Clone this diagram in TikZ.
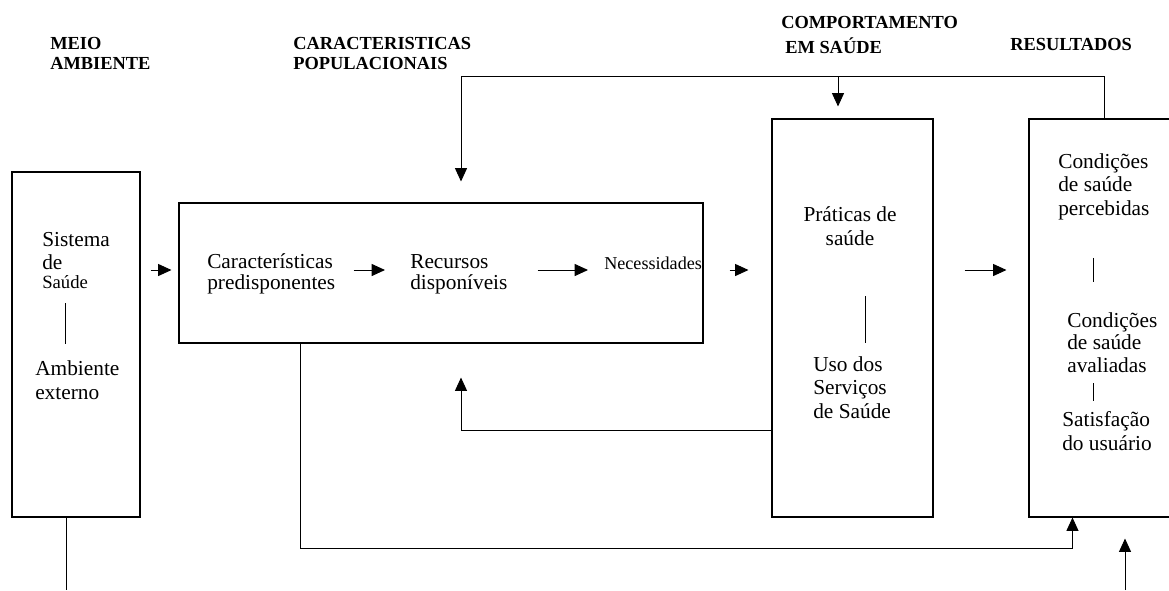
\documentclass[tikz,border=0pt]{standalone}
\usepackage{fontspec}
\setmainfont{Liberation Serif}
\usetikzlibrary{arrows.meta,calc,fit}

\begin{document}
\begin{tikzpicture}[x=0.75pt,y=-0.75pt,
    caixa/.style={draw,line width=0.8pt,inner sep=0pt},
    texto/.style={font=\fontsize{16}{17.6}\selectfont,align=left,inner sep=0pt,anchor=base west},
    titulo/.style={font=\bfseries\fontsize{13.8}{15}\selectfont,align=left,inner sep=0pt,anchor=base west},
    seta/.style={line width=0.7pt,-{Triangle[length=10pt,width=9pt]}},
    traco/.style={line width=0.7pt}]
  \useasboundingbox (0,0) rectangle (1169,590);
  \coordinate (linha) at (0,270);
  \coordinate (retorno) at (461,430);
  \coordinate (topo) at (461,76);
  \coordinate (desce) at (838,76);
  \coordinate (baixo) at (300,548);
  \coordinate (entrada) at (1125,590);
  \coordinate (saida) at (66,590);

  \node[titulo] (hambiente) at (50,69) {MEIO\\AMBIENTE};
  \node[titulo] (hpopulacao) at (293,69) {CARACTERISTICAS\\POPULACIONAIS};
  \node[titulo] (hcomport) at (781,53) {COMPORTAMENTO\\[3.75pt]\hspace*{3pt}EM SAÚDE};
  \node[titulo] (hresult) at (1010,50) {RESULTADOS};

  \node[caixa,fit={(12,172) (140,517)}] (ambiente) {};
  \node[caixa,fit={(179,203) (703,343)}] (populacao) {};
  \node[caixa,fit={(772,119) (933,517)}] (comportamento) {};
  \node[caixa,fit={(1029,119) (1180,517)}] (resultados) {};

  \node[texto] (sistema) at (42,288) {Sistema\\de\\[-4pt]{\fontsize{14}{16}\selectfont Saúde}};
  \node[texto] (externo) at (35,399) {Ambiente\\externo};
  \node[texto] (predisp) at (207,289) {Características\\[-1.85pt]predisponentes};
  \node[texto] (recursos) at (410,289) {Recursos\\[-1.85pt]disponíveis};
  \node[texto,font=\fontsize{13.6}{15}\selectfont] (necess) at (604,269) {Necessidades};
  \node[texto,align=center,anchor=base] (praticas) at (850,245) {Práticas de\\saúde};
  \node[texto] (uso) at (813,418) {Uso dos\\Serviços\\de Saúde};
  \node[texto] (percebidas) at (1058,215) {Condições\\de saúde\\percebidas};
  \node[texto] (avaliadas) at (1067,372) {Condições\\[-0.8pt]de saúde\\[-0.8pt]avaliadas};
  \node[texto] (satisf) at (1062,450) {Satisfação\\do usuário};

  \draw[traco] ($(sistema.south west)+(23,15)$) -- ($(externo.north west)+(30,-16)$);
  \draw[traco] ($(praticas.south)+(15,51)$) -- ($(uso.north west)+(52,-13)$);
  \draw[traco] ($(percebidas.south west)+(35,38)$) -- ($(avaliadas.north west)+(26,-30)$);
  \draw[traco] ($(avaliadas.south west)+(26,11)$) -- ($(satisf.north west)+(31,-10)$);

  \draw[seta] ($(ambiente.east |- linha)+(10,0)$) -- ($(populacao.west |- linha)+(-7,0)$);
  \draw[seta] ($(predisp.east |- linha)+(18,0)$) -- ($(recursos.west |- linha)+(-25,0)$);
  \draw[seta] ($(recursos.east |- linha)+(30,0)$) -- ($(necess.west |- linha)+(-16,0)$);
  \draw[seta] ($(populacao.east |- linha)+(26,0)$) -- ($(comportamento.west |- linha)+(-23,0)$);
  \draw[seta] ($(comportamento.east |- linha)+(31,0)$) -- ($(resultados.west |- linha)+(-22,0)$);

  \draw[seta] (comportamento.west |- retorno) -- (retorno) -- ($(populacao.south -| retorno)+(0,34)$);
  \draw[seta] (resultados.north) |- (topo) -- ($(populacao.north -| topo)+(0,-21)$);
  \draw[seta] (desce) -- ($(comportamento.north -| desce)+(0,-12)$);
  \draw[seta] (populacao.south -| baixo) -- (baixo) -| ($(resultados.south west)+(44,0)$);
  \draw[seta] (entrada) -- ($(resultados.south -| entrada)+(0,21)$);
  \draw[traco] (ambiente.south -| saida) -- (saida);
\end{tikzpicture}
\end{document}
